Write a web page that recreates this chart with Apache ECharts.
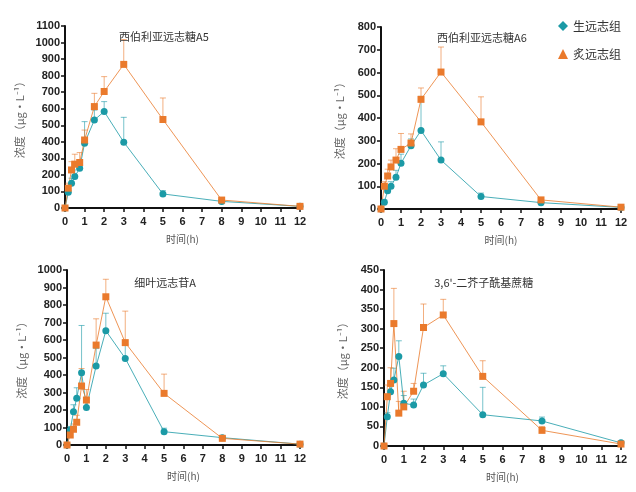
<!DOCTYPE html>
<html>
<head>
<meta charset="utf-8">
<script src="https://cdn.jsdelivr.net/npm/echarts@6/dist/echarts.min.js"></script>
<style>
  html, body { margin: 0; padding: 0; background: #fff; }
  #main { width: 636px; height: 492px; }
</style>
</head>
<body>
<div id="main"></div>
<script>
// 采样时间 (h)
var times = [0, 0.167, 0.333, 0.5, 0.75, 1, 1.5, 2, 3, 5, 8, 12];
var groupNames = ['生远志组', '炙远志组'];
var panelTitles = ['西伯利亚远志糖A5', '西伯利亚远志糖A6', '细叶远志苷A', "3,6'-二芥子酰基蔗糖"];
var yMax = [1100, 800, 1000, 450];
var yStep = [100, 100, 100, 50];

// 西伯利亚远志糖A5
var a5Raw = [0, 95, 150, 190, 240, 392, 532, 583, 398, 85, 40, 10];
var a5RawSd = [0, 20, 30, 40, 40, 130, 60, 60, 150, 20, 10, 5];
var a5Proc = [0, 120, 230, 265, 275, 411, 613, 704, 868, 535, 48, 10];
var a5ProcSd = [0, 30, 50, 60, 60, 60, 80, 90, 150, 130, 10, 5];
// 西伯利亚远志糖A6
var a6Raw = [0, 30, 80, 100, 140, 201, 278, 345, 215, 55, 28, 7];
var a6RawSd = [0, 10, 20, 20, 30, 40, 30, 150, 80, 15, 8, 3];
var a6Proc = [0, 100, 145, 185, 215, 262, 290, 482, 602, 383, 40, 8];
var a6ProcSd = [0, 20, 30, 30, 50, 70, 40, 50, 110, 110, 10, 5];
// 细叶远志苷A
var tfaRaw = [0, 86, 190, 267, 413, 215, 451, 653, 495, 76, 42, 5];
var tfaRawSd = [0, 20, 40, 60, 270, 50, 100, 100, 80, 20, 10, 3];
var tfaProc = [0, 57, 90, 130, 337, 257, 571, 847, 585, 295, 38, 5];
var tfaProcSd = [0, 20, 30, 40, 100, 60, 150, 100, 180, 110, 10, 3];
// 3,6'-二芥子酰基蔗糖
var dssRaw = [0, 75, 139, 169, 229, 109, 105, 156, 185, 80, 64, 8];
var dssRawSd = [0, 10, 20, 30, 40, 20, 15, 30, 20, 70, 10, 3];
var dssProc = [0, 126, 160, 313, 84, 100, 140, 303, 335, 178, 40, 5];
var dssProcSd = [0, 30, 40, 90, 30, 40, 20, 60, 40, 40, 10, 3];

var rawList = [a5Raw, a6Raw, tfaRaw, dssRaw];
var rawSdList = [a5RawSd, a6RawSd, tfaRawSd, dssRawSd];
var procList = [a5Proc, a6Proc, tfaProc, dssProc];
var procSdList = [a5ProcSd, a6ProcSd, tfaProcSd, dssProcSd];

var colors = ['#1b9aa6', '#ea7a2c'];
var symbols = ['circle', 'rect'];

// 网格位置
var grids = [
  { left: 65, top: 26, width: 235, height: 182 },
  { left: 381, top: 27, width: 240, height: 182 },
  { left: 67, top: 270, width: 233, height: 175 },
  { left: 384, top: 270, width: 237, height: 176 }
];

var tickFont = { color: '#222', fontSize: 11, fontWeight: 'bold', fontFamily: 'Liberation Sans' };
var cjk = 'Noto Sans CJK SC';

function zip(vals, sd) {
  return times.map(function (t, i) { return sd ? [t, vals[i], sd[i]] : [t, vals[i]]; });
}

function errorItem(params, api) {
  var x = api.value(0), y = api.value(1), sd = api.value(2);
  if (!sd) return;
  var p0 = api.coord([x, y]);
  var p1 = api.coord([x, y + sd]);
  var style = { stroke: api.visual('color'), lineWidth: 1, opacity: 0.6 };
  return {
    type: 'group',
    children: [
      { type: 'line', shape: { x1: p0[0], y1: p0[1], x2: p1[0], y2: p1[1] }, style: style },
      { type: 'line', shape: { x1: p1[0] - 3, y1: p1[1], x2: p1[0] + 3, y2: p1[1] }, style: style }
    ]
  };
}

var xAxis = [], yAxis = [], series = [], titles = [];
grids.forEach(function (g, k) {
  xAxis.push({
    gridIndex: k, type: 'value', min: 0, max: 12, interval: 1,
    name: '时间(h)',
    nameLocation: 'middle', nameGap: 26,
    nameTextStyle: { fontFamily: cjk, fontSize: 10, color: '#555' },
    axisLine: { lineStyle: { color: '#111', width: 2 } },
    axisTick: { length: 4, lineStyle: { color: '#111', width: 1.5 } },
    axisLabel: tickFont,
    splitLine: { show: false }
  });
  yAxis.push({
    gridIndex: k, type: 'value', min: 0, max: yMax[k], interval: yStep[k],
    name: '浓度（μg·L⁻¹）', nameLocation: 'middle', nameGap: k == 0 || k == 2 ? 40 : 36,
    nameTextStyle: { fontFamily: cjk, fontSize: 11, color: '#666' },
    axisLine: { show: true, lineStyle: { color: '#111', width: 2 } },
    axisTick: { show: true, length: 4, lineStyle: { color: '#111', width: 1.5 } },
    axisLabel: Object.assign({ margin: 5, formatter: function (v) { return String(v); } }, tickFont),
    splitLine: { show: false }
  });
  titles.push({
    text: panelTitles[k],
    left: g.left + g.width * 0.4, top: g.top + (k < 2 ? 0 : 2),
    textAlign: 'center',
    textStyle: { fontFamily: cjk, fontSize: 11, fontWeight: 'normal', color: '#333' }
  });
  [[rawList, rawSdList], [procList, procSdList]].forEach(function (pair, s) {
    series.push({
      type: 'custom', name: groupNames[s], xAxisIndex: k, yAxisIndex: k,
      renderItem: errorItem, data: zip(pair[0][k], pair[1][k]),
      encode: { x: 0, y: 1 }, itemStyle: { color: colors[s] }, z: 1, silent: true
    });
    series.push({
      type: 'line', name: groupNames[s], xAxisIndex: k, yAxisIndex: k,
      data: zip(pair[0][k]),
      symbol: symbols[s], symbolSize: 7,
      itemStyle: { color: colors[s] },
      lineStyle: { color: colors[s], width: 1, opacity: 0.8 },
      z: 3
    });
  });
});

var chart = echarts.init(document.getElementById('main'));
chart.setOption({
  backgroundColor: '#fff',
  animation: false,
  title: titles,
  legend: {
    data: [
      { name: groupNames[0], icon: 'diamond' },
      { name: groupNames[1], icon: 'triangle' }
    ],
    orient: 'vertical', right: 10, top: 15, itemGap: 16,
    itemWidth: 10, itemHeight: 10,
    textStyle: { fontFamily: cjk, fontSize: 12, color: '#333' }
  },
  grid: grids,
  xAxis: xAxis,
  yAxis: yAxis,
  series: series
});
</script>
</body>
</html>
